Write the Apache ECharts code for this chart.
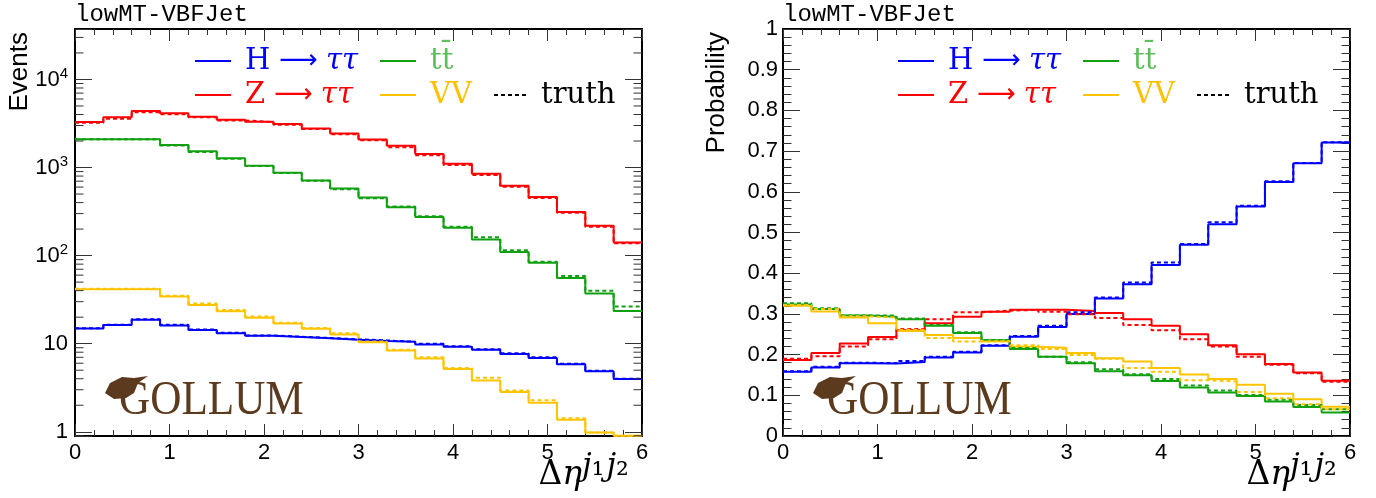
<!DOCTYPE html>
<html><head><meta charset="utf-8">
<script src="https://cdn.jsdelivr.net/npm/echarts@6/dist/echarts.min.js"></script>
<style>html,body{margin:0;padding:0;background:#fff}#c{width:1376px;height:498px}</style>
</head><body><div id="c"></div>
<script>
// ---------------- data ----------------
const binEdges = [0,0.3,0.6,0.9,1.2,1.5,1.8,2.1,2.4,2.7,3.0,3.3,3.6,3.9,4.2,4.5,4.8,5.1,5.4,5.7,6.0];
const xTickLabels = ['0','1','2','3','4','5','6'];
const probTickLabels = ['0','0.1','0.2','0.3','0.4','0.5','0.6','0.7','0.8','0.9','1'];
const eventsTickLabels = {0:'1', 1:'10', 2:'10^2', 3:'10^3', 4:'10^4'};

// left panel: events (log scale)
const evHtt      = [14.9,16.3,18.7,16.1,14.3,13.1,12.3,11.9,11.5,11.1,10.7,10.5,9.78,9.20,8.51,7.66,6.89,5.83,4.85,3.96];
const evHttTruth = [15.0,16.4,18.9,16.4,14.5,13.3,12.4,12.0,11.6,11.2,10.9,10.5,9.96,9.36,8.65,7.79,7.01,5.93,4.93,4.00];
const evZtt      = [3283,3715,4387,4124,3777,3493,3311,3115,2778,2436,2080,1762,1427,1106,851,620,464,313,218,141];
const evZttTruth = [3226,3584,4233,4017,3711,3429,3282,3060,2731,2393,2044,1700,1377,1068,821,604,452,307,213,138];
const evTT       = [2099,2099,2099,1807,1531,1274,1050,873,713,578,456,354,274,207,152,110,83.0,55.6,37.1,23.5];
const evTTTruth  = [2099,2099,2099,1776,1504,1262,1040,865,707,568,448,360,279,213,162,115,85.4,58.6,39.8,26.4];
const evVV       = [41.6,41.6,41.6,34.3,27.5,23.3,19.7,17.0,14.8,12.7,10.4,8.36,6.77,5.16,3.83,2.82,2.14,1.37,0.98,0.90];
const evVVTruth  = [42.0,42.0,42.0,34.9,28.5,24.1,20.4,17.3,15.1,13.1,10.6,8.55,7.00,5.30,4.10,2.94,2.28,1.42,0.98,0.90];

// right panel: probability
const prHtt      = [0.158,0.168,0.179,0.178,0.182,0.193,0.205,0.222,0.244,0.268,0.300,0.338,0.373,0.420,0.470,0.520,0.564,0.624,0.670,0.721];
const prHttTruth = [0.159,0.170,0.180,0.179,0.184,0.195,0.207,0.223,0.246,0.271,0.304,0.340,0.377,0.426,0.472,0.525,0.566,0.626,0.671,0.722];
const prZtt      = [0.187,0.204,0.227,0.243,0.260,0.277,0.293,0.305,0.310,0.310,0.307,0.302,0.287,0.271,0.250,0.223,0.201,0.177,0.156,0.136];
const prZttTruth = [0.190,0.196,0.220,0.238,0.263,0.287,0.304,0.308,0.310,0.305,0.299,0.290,0.273,0.260,0.238,0.220,0.195,0.175,0.154,0.133];
const prTT       = [0.323,0.312,0.296,0.293,0.287,0.271,0.253,0.235,0.214,0.195,0.179,0.159,0.149,0.135,0.119,0.107,0.098,0.085,0.071,0.058];
const prTTTruth  = [0.326,0.314,0.296,0.296,0.289,0.273,0.255,0.236,0.216,0.195,0.181,0.164,0.152,0.140,0.124,0.112,0.101,0.089,0.076,0.066];
const prVV       = [0.320,0.306,0.291,0.277,0.258,0.248,0.241,0.233,0.219,0.217,0.204,0.191,0.183,0.167,0.151,0.140,0.126,0.104,0.090,0.072];
const prVVTruth  = [0.322,0.312,0.294,0.291,0.261,0.241,0.232,0.233,0.223,0.214,0.199,0.190,0.167,0.158,0.137,0.134,0.108,0.093,0.078,0.066];

// ---------------- styling ----------------
const SANS = "'Liberation Sans', Arial, sans-serif";
const SERIF = "'Liberation Serif', 'DejaVu Serif', serif";
const DSERIF = "'DejaVu Serif', serif";
const MONO = "'Liberation Mono', 'DejaVu Sans Mono', monospace";
const COL = {H:'#0000ff', Z:'#ff0000', T:'#10a010', V:'#ffc400'};
const TXT = {H:'#0000ff', Z:'#ff0000', T:'#5cbf5c', V:'#ffc000', truth:'#000000'};
const G = [{left:75, top:29, width:567, height:407}, {left:783, top:29, width:567, height:407}];
const EV_MIN = 0.895, EV_MAX = 37400;

function hist(vals){
  const pts = vals.map((v,i)=>[binEdges[i], v]);
  pts.push([binEdges[vals.length], vals[vals.length-1]]);
  return pts;
}
function stepSeries(name, vals, color, dashed, xi, yi){
  return {type:'line', name, data:hist(vals), step:'end', symbol:'none', showSymbol:false,
    xAxisIndex:xi, yAxisIndex:yi, animation:false, silent:true,
    lineStyle:{color, width:2, type: dashed ? [4,3] : 'solid'},
    itemStyle:{color}, emphasis:{disabled:true}, z: dashed ? 4 : 3};
}
const tickStyle = {color:'#333', width:1};
function xAx(gi, pos){
  return {type:'value', gridIndex:gi, position:pos, min:0, max:6, interval:1,
    axisLine:{show:true, onZero:false, lineStyle:{color:'#000', width:2}},
    axisTick:{show:true, inside:true, length:12, lineStyle:tickStyle},
    minorTick:{show:true, splitNumber:5, length:6, lineStyle:tickStyle},
    splitLine:{show:false}, minorSplitLine:{show:false},
    axisLabel:{show: pos==='bottom', margin:6, fontSize:22, fontFamily:SANS, color:'#000',
      formatter:(v)=>xTickLabels[Math.round(v)]}};
}
function yProb(gi, pos){
  return {type:'value', gridIndex:gi, position:pos, min:0, max:1, interval:0.1,
    axisLine:{show:true, onZero:false, lineStyle:{color:'#000', width:2}},
    axisTick:{show:true, inside:true, length:17, lineStyle:tickStyle},
    minorTick:{show:true, splitNumber:5, length:8.5, lineStyle:tickStyle},
    splitLine:{show:false}, minorSplitLine:{show:false},
    axisLabel:{show: pos==='left', margin:5, fontSize:22, fontFamily:SANS, color:'#000',
      formatter:(v)=>probTickLabels[Math.round(v*10)]}};
}
function yLog(gi, pos){
  return {type:'log', logBase:10, gridIndex:gi, position:pos, min:EV_MIN, max:EV_MAX,
    axisLine:{show:true, onZero:false, lineStyle:{color:'#000', width:2}},
    axisTick:{show:true, inside:true, length:17, lineStyle:tickStyle},
    splitLine:{show:false},
    axisLabel:{show: pos==='left', margin:7, fontSize:22, fontFamily:SANS, color:'#000',
      formatter:(v)=>{
        const l = Math.log10(v), e = Math.round(l);
        if (Math.abs(l-e) > 1e-6 || !(e in eventsTickLabels)) return '';
        const s = eventsTickLabels[e];
        if (s.indexOf('^') < 0) return '{b|'+s+'}';
        const p = s.split('^');
        return '{b|'+p[0]+'}{s|'+p[1]+'}';
      },
      rich:{b:{fontSize:22, fontFamily:SANS, color:'#000', lineHeight:26},
            s:{fontSize:15, fontFamily:SANS, color:'#000', lineHeight:15, verticalAlign:'top'}}}};
}

// minor ticks for log axis (2..9 x 10^k)
const logMinor = [];
for (let k=-1;k<=4;k++) for (let m=2;m<=9;m++){ const v=m*Math.pow(10,k); if (v>EV_MIN && v<EV_MAX) logMinor.push(v); }

const series = [
  stepSeries('Htt', evHtt, COL.H, false, 0, 0), stepSeries('truth', evHttTruth, COL.H, true, 0, 0),
  stepSeries('Ztt', evZtt, COL.Z, false, 0, 0), stepSeries('truth', evZttTruth, COL.Z, true, 0, 0),
  stepSeries('ttbar', evTT, COL.T, false, 0, 0), stepSeries('truth', evTTTruth, COL.T, true, 0, 0),
  stepSeries('VV', evVV, COL.V, false, 0, 0), stepSeries('truth', evVVTruth, COL.V, true, 0, 0),
  stepSeries('Htt', prHtt, COL.H, false, 2, 2), stepSeries('truth', prHttTruth, COL.H, true, 2, 2),
  stepSeries('Ztt', prZtt, COL.Z, false, 2, 2), stepSeries('truth', prZttTruth, COL.Z, true, 2, 2),
  stepSeries('ttbar', prTT, COL.T, false, 2, 2), stepSeries('truth', prTTTruth, COL.T, true, 2, 2),
  stepSeries('VV', prVV, COL.V, false, 2, 2), stepSeries('truth', prVVTruth, COL.V, true, 2, 2),
  {type:'custom', name:'logMinorTicks', xAxisIndex:0, yAxisIndex:0, silent:true, clip:false, animation:false, z:5,
   data: logMinor.map(v=>[0, v]),
   renderItem:(params, api)=>{
     const v = api.value(1);
     const a = api.coord([0, v]), b = api.coord([6, v]);
     return {type:'group', children:[
       {type:'line', shape:{x1:a[0], y1:a[1], x2:a[0]+8.5, y2:a[1]}, style:{stroke:'#333', lineWidth:1}},
       {type:'line', shape:{x1:b[0], y1:b[1], x2:b[0]-8.5, y2:b[1]}, style:{stroke:'#333', lineWidth:1}}
     ]};
   }}
];

function richFor(color){
  return {
    r:{fontFamily:DSERIF, fontSize:29, lineHeight:36, color, padding:[0,0,0,9]},
    u:{fontFamily:DSERIF, fontSize:29, lineHeight:36, color},
    a:{fontFamily:"'DejaVu Sans', sans-serif", fontSize:27, lineHeight:36, color, padding:[0,8,0,9]},
    i:{fontFamily:DSERIF, fontSize:29, lineHeight:36, color, fontStyle:'italic'}
  };
}
const legendDefs = [
  {name:'Htt', fmt:'{r|H}{a|⟶}{i|ττ}', c:TXT.H, dx:0, row:0},
  {name:'ttbar', fmt:'{r|t}{u|t\u0304}', c:TXT.T, dx:185, row:0},
  {name:'Ztt', fmt:'{r|Z}{a|⟶}{i|ττ}', c:TXT.Z, dx:0, row:1},
  {name:'VV', fmt:'{r|VV}', c:TXT.V, dx:185, row:1},
  {name:'truth', fmt:'{r|truth}', c:TXT.truth, dx:299, row:1, w:33}
];
const legendOrigins = [{x:194, y:[43,77]}, {x:897, y:[43,77]}];
const legends = [];
legendOrigins.forEach(o=>{
  legendDefs.forEach(d=>{
    const item = {name:d.name, itemStyle:{opacity:0, color:'transparent', borderWidth:0}};
    if (d.name==='truth') { item.lineStyle={color:'#000', type:[4,3], width:2}; }
    legends.push({left:o.x+d.dx, top:o.y[d.row], padding:0, itemWidth:d.w||36, itemHeight:14,
      selectedMode:false, data:[item], formatter:d.fmt,
      itemStyle:{opacity:0},
      textStyle:{color:d.c, fontFamily:DSERIF, fontSize:29, lineHeight:36, rich:richFor(d.c)}});
  });
});

function panelGraphics(dx, yTitle, yTitleX){
  return [
    {type:'text', x:75+dx, y:15, style:{text:'lowMT-VBFJet', fontFamily:MONO, fontSize:24, fill:'#000', align:'left', verticalAlign:'middle'}},
    {type:'text', x:yTitleX, y:32, rotation:Math.PI/2, style:{text:yTitle, fontFamily:SANS, fontSize:26, fill:'#000', align:'right', verticalAlign:'middle'}},
    {type:'text', x:582+dx, y:475, style:{text:'{d|Δ}{e|η}', align:'right', verticalAlign:'middle',
      rich:{d:{fontFamily:DSERIF, fontSize:33, fill:'#000'}, e:{fontFamily:DSERIF, fontSize:33, fontStyle:'italic', fill:'#000'}}}},
    {type:'text', x:582+dx, y:467, style:{text:'{j|j}{n|₁}{j|j}{n|₂}', align:'left', verticalAlign:'middle',
      rich:{j:{fontFamily:DSERIF, fontSize:31, fontStyle:'italic', fill:'#000'}, n:{fontFamily:DSERIF, fontSize:32, fill:'#000', padding:[0,2,0,0]}}}},
    {type:'text', x:119+dx, y:401, scaleX:0.9, style:{text:'GOLLUM', fontFamily:SERIF, fontSize:48, fill:'#5b3a1e', align:'left', verticalAlign:'middle'}},
    {type:'polygon', shape:{points:[[105+dx,393],[110+dx,383],[122+dx,377],[134+dx,378],[148+dx,376],[138+dx,383],[134+dx,393],[126+dx,398],[114+dx,399]]}, style:{fill:'#5b3a1e'}}
  ];
}

const option = {
  animation:false,
  backgroundColor:'#ffffff',
  textStyle:{fontFamily:SANS},
  grid: G.map(g=>Object.assign({containLabel:false, outerBoundsMode:'none'}, g)),
  xAxis:[xAx(0,'bottom'), xAx(0,'top'), xAx(1,'bottom'), xAx(1,'top')],
  yAxis:[yLog(0,'left'), yLog(0,'right'), yProb(1,'left'), yProb(1,'right')],
  legend: legends,
  series,
  graphic: [].concat(panelGraphics(0,'Events',20), panelGraphics(708,'Probability',717))
};
const chart = echarts.init(document.getElementById('c'), null, {renderer:'canvas', width:1376, height:498});
chart.setOption(option);
</script></body></html>
